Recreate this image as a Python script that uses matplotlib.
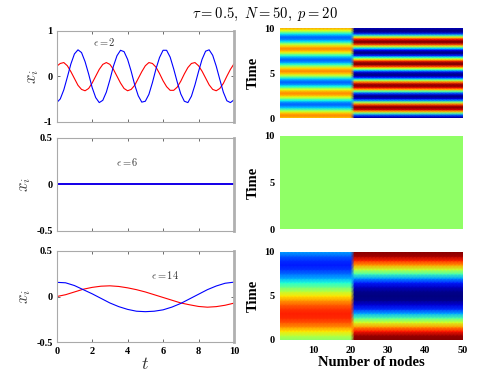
import numpy as np
import matplotlib
matplotlib.use('Agg')
import matplotlib.pyplot as plt

plt.rcParams['font.family'] = 'Liberation Serif'
plt.rcParams['mathtext.fontset'] = 'cm'

# time grid of the sampled curves
t_top = np.round(np.arange(0, 10.01, 0.2), 2)
t_bot = np.round(np.arange(0, 10.01, 0.5), 2)

# eps = 2 : two clusters oscillating
top_red = [0.22, 0.28, 0.30, 0.23, 0.10, -0.05, -0.20, -0.29, -0.32, -0.27,
           -0.15, 0.00, 0.15, 0.26, 0.30, 0.26, 0.15, 0.00, -0.15, -0.27,
           -0.32, -0.29, -0.20, -0.05, 0.10, 0.23, 0.30, 0.28, 0.20, 0.06,
           -0.10, -0.23, -0.31, -0.31, -0.24, -0.11, 0.05, 0.19, 0.28, 0.30,
           0.23, 0.11, -0.04, -0.19, -0.29, -0.32, -0.27, -0.16, 0.00, 0.15, 0.27]
top_blue = [-0.58, -0.50, -0.30, -0.02, 0.27, 0.49, 0.58, 0.52, 0.32, 0.05,
            -0.25, -0.47, -0.58, -0.53, -0.35, -0.08, 0.22, 0.45, 0.57, 0.54,
            0.37, 0.11, -0.19, -0.43, -0.57, -0.55, -0.40, -0.14, 0.16, 0.41,
            0.57, 0.57, 0.42, 0.16, -0.13, -0.39, -0.55, -0.58, -0.44, -0.19,
            0.10, 0.37, 0.55, 0.58, 0.46, 0.22, -0.07, -0.35, -0.54, -0.58, -0.52]

# eps = 6 : synchronised at zero
mid_red = [0.0] * len(t_bot)
mid_blue = [0.0] * len(t_bot)

# eps = 14 : slow drift
bot_red = [0.0, 0.02, 0.05, 0.08, 0.10, 0.113, 0.117, 0.11, 0.095, 0.075,
           0.05, 0.02, -0.01, -0.04, -0.07, -0.09, -0.108, -0.116, -0.11, -0.095, -0.072]
bot_blue = [0.155, 0.15, 0.12, 0.075, 0.03, -0.02, -0.07, -0.11, -0.14, -0.16,
            -0.165, -0.16, -0.145, -0.115, -0.075, -0.025, 0.025, 0.075, 0.115, 0.145, 0.157]

N = 50
p = 20
nodes = np.arange(1, N + 1)
eps_labels = ['$\\epsilon = 2$', '$\\epsilon = 6$', '$\\epsilon = 14$']
eps_pos = [(2.7, 0.75), (4.0, 0.24), (6.1, 0.23)]

rows = [(t_top, top_red, top_blue, (-1, 1), [-1, 0, 1], ['-1', '0', '1']),
        (t_bot, mid_red, mid_blue, (-0.5, 0.5), [-0.5, 0, 0.5], ['-0.5', '0', '0.5']),
        (t_bot, bot_red, bot_blue, (-0.5, 0.5), [-0.5, 0, 0.5], ['-0.5', '0', '0.5'])]

left_pos = [[0.1155, 0.6814, 0.361, 0.2382],
            [0.1155, 0.3953, 0.361, 0.2443],
            [0.1155, 0.1037, 0.361, 0.2400]]
right_pos = [[0.5703, 0.6903, 0.372, 0.2356],
             [0.5703, 0.3997, 0.372, 0.2443],
             [0.5703, 0.1100, 0.372, 0.2310]]

fig = plt.figure(figsize=(4.91, 3.82), dpi=100)
tickfont = dict(family='Liberation Serif', weight='bold', size=7.5)

for i, (t, xr, xb, ylim, yt, ytl) in enumerate(rows):
    ax = fig.add_axes(left_pos[i])
    lw = 1.3 if i == 1 else 0.8
    ax.plot(t, xr, color='red', lw=lw)
    ax.plot(t, xb, color='blue', lw=lw)
    ax.set_xlim(0, 10)
    ax.set_ylim(*ylim)
    ax.set_yticks(yt)
    ax.set_yticklabels(ytl, **tickfont)
    ax.set_xticks([0, 2, 4, 6, 8, 10])
    if i == 2:
        ax.set_xticklabels(['0', '2', '4', '6', '8', '10'], **tickfont)
        ax.set_xlabel('$t$', fontsize=13, labelpad=0, color='#333333')
    else:
        ax.set_xticklabels([])
    ax.tick_params(direction='in', length=2, width=0.6, color='#555555',
                   top=True, right=True, pad=3)
    for s in ax.spines.values():
        s.set_color('#aaaaaa')
        s.set_linewidth(0.8)
    ax.spines['right'].set_linewidth(2)
    ax.spines['right'].set_color('#b0b0b0')
    ax.set_ylabel('$x_i$', fontsize=12, color='#444444', labelpad=2)
    ax.text(eps_pos[i][0], eps_pos[i][1], eps_labels[i], fontsize=7.5,
            ha='center', va='center', color='#333333')

    # heatmap: first p nodes follow the red cluster, the rest the blue one
    Z = np.column_stack([xr] * p + [xb] * (N - p))
    zmin, zmax = np.min(Z), np.max(Z)
    if zmax <= zmin:
        # constant field: MATLAB lands just above the middle of jet
        zmin, zmax = zmin - 1, zmax + 0.9
    hx = fig.add_axes(right_pos[i])
    hx.pcolormesh(nodes, t, Z, shading='gouraud', cmap='jet', vmin=zmin, vmax=zmax)
    hx.set_xlim(1, N)
    hx.set_ylim(0, 10)
    hx.set_yticks([0, 5, 10])
    hx.set_yticklabels(['0', '5', '10'], **tickfont)
    if i == 2:
        hx.set_xticks([10, 20, 30, 40, 50])
        hx.set_xticklabels(['10', '20', '30', '40', '50'], **tickfont)
        hx.set_xlabel('Number of nodes', fontsize=10.5, fontweight='bold', labelpad=1)
    else:
        hx.set_xticks([])
    hx.tick_params(length=0, pad=4)
    for s in hx.spines.values():
        s.set_visible(False)
    hx.set_ylabel('Time', fontsize=10.5, fontweight='bold', labelpad=3)

fig.text(0.54, 0.962, '$\\tau = 0.5,\\ N = 50,\\ p = 20$', fontsize=10.5,
         ha='center', va='center')

fig.savefig('out.png', dpi=100)
